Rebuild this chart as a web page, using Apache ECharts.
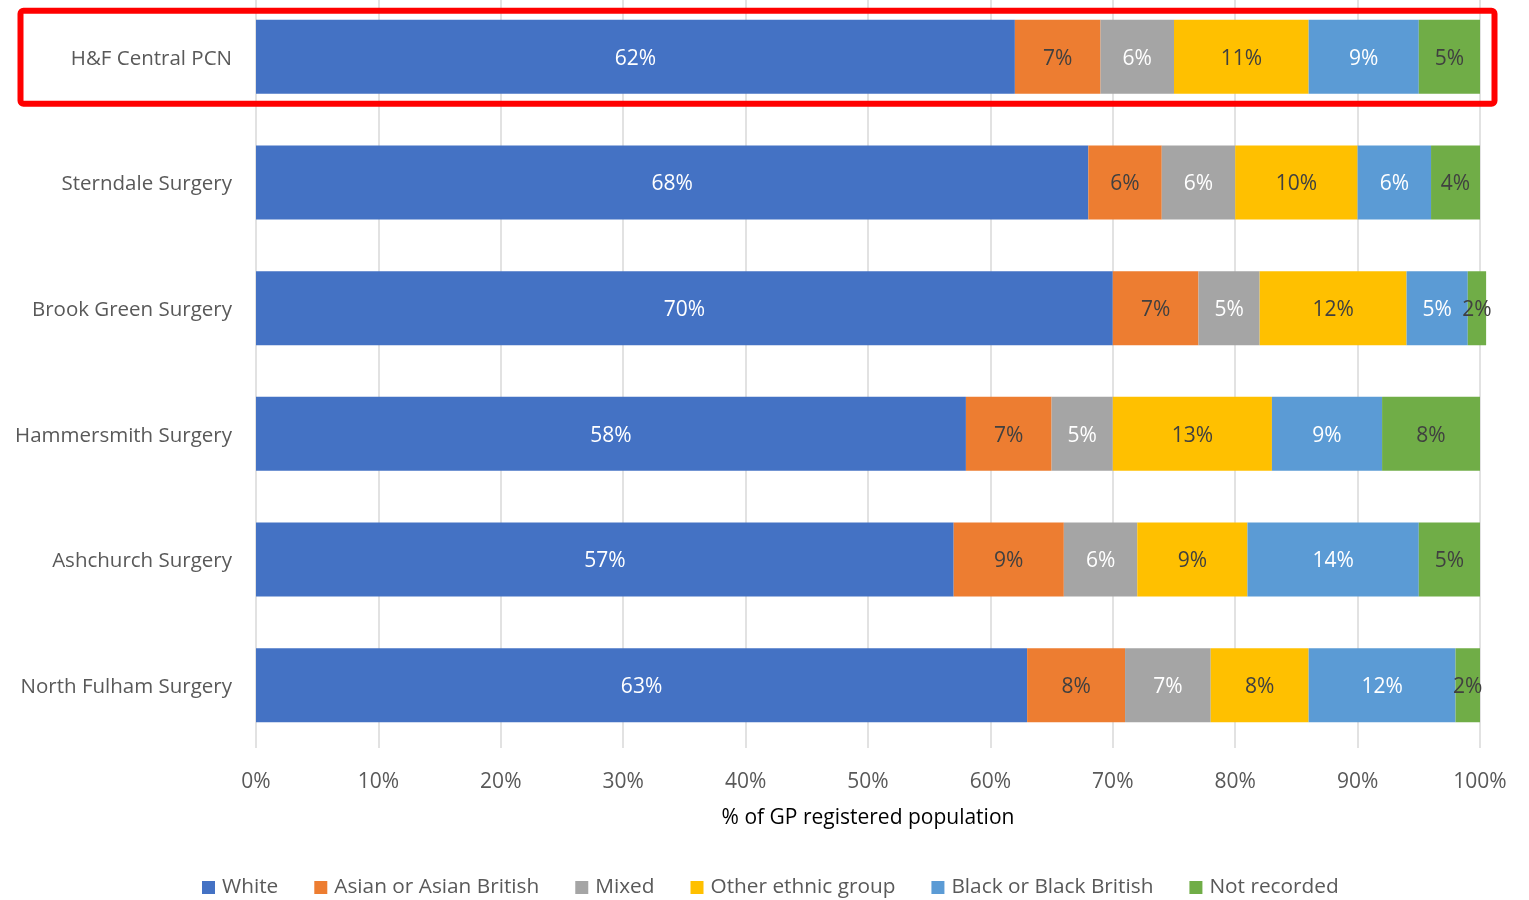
<!DOCTYPE html>
<html>
<head>
<meta charset="utf-8">
<script src="https://cdn.jsdelivr.net/npm/echarts@6/dist/echarts.min.js"></script>
<style>
html,body{margin:0;padding:0;background:#fff;overflow:hidden;}
#chart{position:absolute;left:0;top:-6px;width:1529px;height:906px;}
</style>
</head>
<body>
<div id="chart"></div>
<script>
const categories = ['H&F Central PCN','Sterndale Surgery','Brook Green Surgery','Hammersmith Surgery','Ashchurch Surgery','North Fulham Surgery'];
const seriesNames = ['White','Asian or Asian British','Mixed','Other ethnic group','Black or Black British','Not recorded'];
const white = [62, 68, 70, 58, 57, 63];
const asian = [7, 6, 7, 7, 9, 8];
const mixed = [6, 6, 5, 5, 6, 7];
const other = [11, 10, 12, 13, 9, 8];
const black = [9, 6, 5, 9, 14, 12];
const notRecorded = [5, 4, 1.5, 8, 5, 2];
const xTicks = [0, 10, 20, 30, 40, 50, 60, 70, 80, 90, 100];

const colors = ['#4472C4','#ED7D31','#A5A5A5','#FFC000','#5B9BD5','#70AD47'];
const labelColors = ['#FFFFFF','#404040','#FFFFFF','#404040','#FFFFFF','#404040'];
const values = [white, asian, mixed, other, black, notRecorded];
const FONT = '"Open Sans", "Noto Sans", sans-serif';
const OFF = 6; // container is shifted up by this many px

const chart = echarts.init(document.getElementById('chart'), null, {renderer:'canvas'});

const series = seriesNames.map((name, i) => ({
  name: name,
  type: 'bar',
  stack: 'total',
  barWidth: 74,
  clip: false,
  data: values[i],
  itemStyle: { color: colors[i] },
  label: {
    show: true,
    position: 'inside',
    offset: [0, 2],
    color: labelColors[i],
    fontFamily: FONT,
    fontSize: 21,
    formatter: p => Math.round(p.value) + '%'
  },
  emphasis: { disabled: true }
}));

chart.setOption({
  animation: false,
  color: colors,
  textStyle: { fontFamily: FONT },
  grid: { left: 256, right: 49, top: 0, bottom: 152, containLabel: false },
  xAxis: {
    type: 'value',
    min: xTicks[0],
    max: xTicks[xTicks.length - 1],
    interval: 10,
    axisLine: { show: false },
    axisTick: { show: false },
    splitLine: { show: true, lineStyle: { color: '#D9D9D9', width: 1.5 } },
    axisLabel: { formatter: '{value}%', color: '#595959', fontSize: 21, margin: 24, fontFamily: FONT },
    name: '% of GP registered population',
    nameLocation: 'middle',
    nameGap: 60,
    nameTextStyle: { color: '#000000', fontSize: 21, fontFamily: FONT }
  },
  yAxis: {
    type: 'category',
    data: categories,
    inverse: true,
    axisLine: { show: false },
    axisTick: { show: false },
    splitLine: { show: false },
    axisLabel: {
      margin: 24,
      formatter: v => '{c|' + v + '}',
      rich: { c: { color: '#595959', fontSize: 20.5, fontFamily: FONT, padding: [4, 0, 0, 0] } }
    }
  },
  legend: {
    data: seriesNames,
    left: 197,
    top: 872 + OFF,
    itemWidth: 13,
    itemHeight: 13,
    itemGap: 36,
    icon: 'rect',
    textStyle: { color: '#595959', fontSize: 20.8, fontFamily: FONT, padding: [0,0,0,2] }
  },
  graphic: [{
    type: 'rect',
    shape: { x: 20.5, y: 10.7 + OFF, width: 1474, height: 93, r: 3 },
    style: { fill: 'none', stroke: '#FF0000', lineWidth: 6 },
    z: 100
  }],
  series: series
});
</script>
</body>
</html>
